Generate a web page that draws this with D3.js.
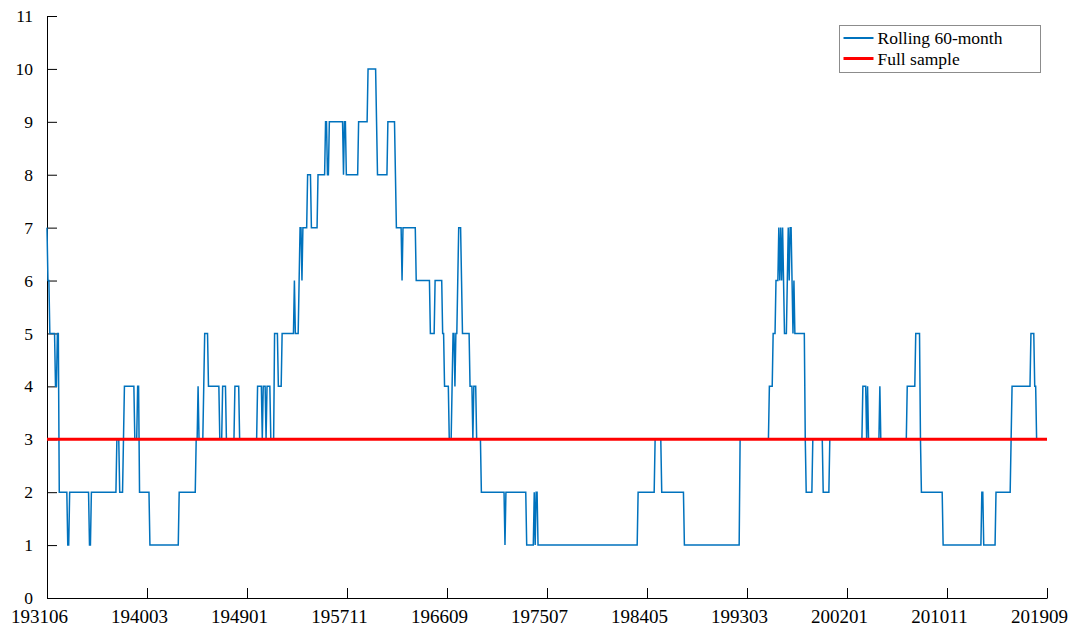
<!DOCTYPE html>
<html>
<head>
    <meta charset="utf-8">
    <title>Rolling 60-month</title>
    <script src="https://d3js.org/d3.v7.min.js"></script>
    <style>
        body { margin: 0; background: #fff; }
        svg text { font-family: "Liberation Serif", "Times New Roman", serif; }
    </style>
</head>
<body>
    <svg width="1068" height="623"></svg>
    <script>
        // month index 0 = 193106, last month 201909 = index 1059
        const totalMonths = 1060;
        const tickLabels = ["193106", "194003", "194901", "195711", "196609", "197507",
                            "198405", "199303", "200201", "201011", "201909"];
        const yTicks = [0, 1, 2, 3, 4, 5, 6, 7, 8, 9, 10, 11];

        const changeMonths = [0, 1, 3, 9, 11, 13, 22, 24, 45, 47,
            74, 77, 81, 82, 93, 96, 98, 109, 140, 158,
            160, 161, 166, 167, 171, 183, 186, 190, 199, 204,
            223, 228, 229, 232, 233, 237, 241, 245, 249, 262,
            263, 267, 268, 270, 271, 276, 280, 287, 295, 297,
            299, 314, 315, 317, 330, 340, 349, 350, 361, 369,
            370, 376, 377, 391, 406, 411, 419, 421, 426, 429,
            430, 432, 433, 435, 436, 439, 440, 448, 451, 452,
            455, 460, 485, 486, 508, 516, 517, 518, 520, 626,
            644, 651, 675, 734, 765, 769, 772, 775, 776, 777,
            778, 779, 780, 781, 784, 785, 786, 787, 789, 790,
            791, 792, 803, 804, 811, 822, 829, 864, 868, 869,
            870, 882, 883, 911, 920, 925, 926, 949, 990, 992,
            1005, 1021, 1022, 1042, 1046, 1048];
        const changeValues = [7, 6, 5, 4, 5, 2, 1, 2, 1, 2,
            3, 2, 3, 4, 3, 4, 2, 1, 2, 3,
            4, 3, 4, 5, 4, 3, 4, 3, 4, 3,
            4, 3, 4, 3, 4, 3, 5, 4, 5, 6,
            5, 6, 7, 6, 7, 8, 7, 8, 9, 8,
            9, 8, 9, 8, 9, 10, 9, 8, 9, 8,
            7, 6, 7, 6, 5, 6, 5, 4, 3, 4,
            5, 4, 5, 6, 7, 6, 5, 4, 3, 4,
            3, 2, 1, 2, 1, 2, 1, 2, 1, 2,
            3, 2, 1, 3, 4, 5, 6, 7, 6, 7,
            6, 7, 6, 5, 6, 7, 6, 7, 6, 5,
            6, 5, 3, 2, 3, 2, 3, 4, 3, 4,
            3, 4, 3, 4, 5, 3, 2, 1, 2, 1,
            2, 3, 4, 5, 4, 3];
        const lastMonth = 1048;

        const fullSample = [3];

        const rolling = [];
        for (let k = 0; k < changeMonths.length; k++) {
            const end = k + 1 < changeMonths.length ? changeMonths[k + 1] - 1 : lastMonth;
            for (let m = changeMonths[k]; m <= end; m++) rolling.push({ m: m, v: changeValues[k] });
        }

        const svg = d3.select("svg");

        const x = d3.scaleLinear().domain([0, totalMonths - 1]).range([47, 1047]);
        const y = d3.scaleLinear().domain([0, 11]).range([598, 16]);

        // axes
        const xTickPos = tickLabels.map((d, i) => i * (totalMonths - 1) / (tickLabels.length - 1));
        const xAxis = d3.axisBottom(x)
            .tickValues(xTickPos)
            .tickFormat((d, i) => tickLabels[i])
            .tickSizeInner(-10)
            .tickSizeOuter(0)
            .tickPadding(12);
        const yAxis = d3.axisLeft(y)
            .tickValues(yTicks)
            .tickFormat(d3.format("d"))
            .tickSizeInner(-10)
            .tickSizeOuter(0)
            .tickPadding(14);

        const gx = svg.append("g").attr("transform", "translate(0,598)").call(xAxis);
        const gy = svg.append("g").attr("transform", "translate(47,0)").call(yAxis);
        gx.selectAll("text")
            .style("font-size", "19px")
            .attr("dx", -8)
            .attr("fill", "#000");
        gy.selectAll("text").style("font-size", "17.5px").attr("fill", "#000");
        svg.selectAll(".domain, .tick line").attr("stroke", "#000");

        // lines
        const line = d3.line().x(d => x(d.m)).y(d => y(d.v));
        svg.append("path")
            .datum(rolling)
            .attr("d", line)
            .attr("fill", "none")
            .attr("stroke", "#0072BD")
            .attr("stroke-width", 1.5);

        svg.append("line")
            .attr("x1", x(0))
            .attr("x2", x(totalMonths - 1))
            .attr("y1", y(fullSample[0]))
            .attr("y2", y(fullSample[0]))
            .attr("stroke", "#FF0000")
            .attr("stroke-width", 3);

        // legend
        const lg = svg.append("g").attr("transform", "translate(839.5,25.5)");
        lg.append("rect")
            .attr("width", 201)
            .attr("height", 47)
            .attr("fill", "#fff")
            .attr("stroke", "#8c8c8c");
        const legendItems = [
            { label: "Rolling 60-month", color: "#0072BD", w: 2, dy: 12.5 },
            { label: "Full sample", color: "#FF0000", w: 3, dy: 33 }
        ];
        legendItems.forEach(it => {
            lg.append("line")
                .attr("x1", 4).attr("x2", 34)
                .attr("y1", it.dy).attr("y2", it.dy)
                .attr("stroke", it.color)
                .attr("stroke-width", it.w);
            lg.append("text")
                .attr("x", 38)
                .attr("y", it.dy)
                .attr("dy", "0.35em")
                .style("font-size", "17.5px")
                .text(it.label);
        });
    </script>
</body>
</html>
